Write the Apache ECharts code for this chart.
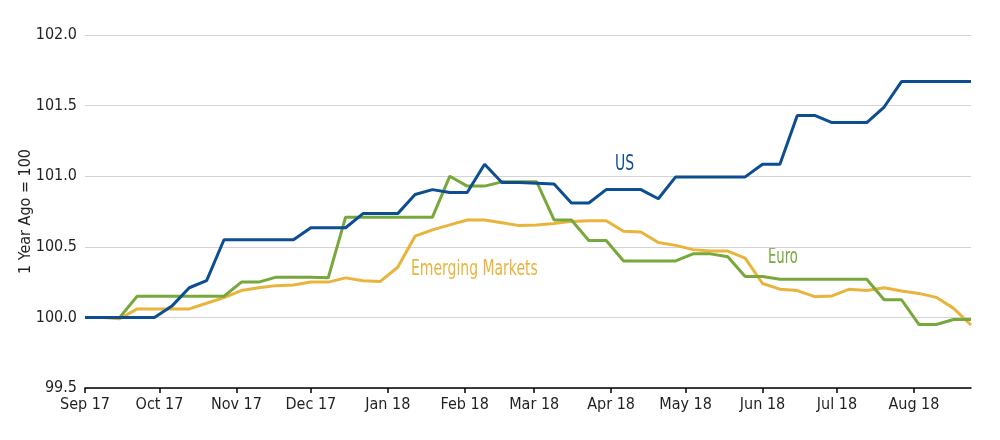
<!DOCTYPE html>
<html>
<head>
<meta charset="utf-8">
<script src="https://cdn.jsdelivr.net/npm/echarts@6/dist/echarts.min.js"></script>
<style>
    html, body { margin: 0; padding: 0; background: #fff; }
    #chart { width: 1000px; height: 440px; }
</style>
</head>
<body>
<div id="chart"></div>
<script>
// weekly observations, Fridays
var weeks = [
    '2017-09-01', '2017-09-08', '2017-09-15', '2017-09-22', '2017-09-29',
    '2017-10-06', '2017-10-13', '2017-10-20', '2017-10-27',
    '2017-11-03', '2017-11-10', '2017-11-17', '2017-11-24',
    '2017-12-01', '2017-12-08', '2017-12-15', '2017-12-22', '2017-12-29',
    '2018-01-05', '2018-01-12', '2018-01-19', '2018-01-26',
    '2018-02-02', '2018-02-09', '2018-02-16', '2018-02-23',
    '2018-03-02', '2018-03-09', '2018-03-16', '2018-03-23', '2018-03-30',
    '2018-04-06', '2018-04-13', '2018-04-20', '2018-04-27',
    '2018-05-04', '2018-05-11', '2018-05-18', '2018-05-25',
    '2018-06-01', '2018-06-08', '2018-06-15', '2018-06-22', '2018-06-29',
    '2018-07-06', '2018-07-13', '2018-07-20', '2018-07-27',
    '2018-08-03', '2018-08-10', '2018-08-17', '2018-08-24'
];

var usValues = [
    100.0, 100.0, 100.0, 100.0, 100.0,
    100.08, 100.21, 100.26, 100.55,
    100.55, 100.55, 100.55, 100.55,
    100.635, 100.635, 100.635, 100.735, 100.735,
    100.735, 100.87, 100.905, 100.885,
    100.885, 101.085, 100.955, 100.955,
    100.95, 100.945, 100.81, 100.81, 100.905,
    100.905, 100.905, 100.84, 100.995,
    100.995, 100.995, 100.995, 100.995,
    101.085, 101.085, 101.43, 101.43, 101.38,
    101.38, 101.38, 101.49, 101.67,
    101.67, 101.67, 101.67, 101.67
];

var euroValues = [
    100.0, 100.0, 100.0, 100.15, 100.15,
    100.15, 100.15, 100.15, 100.15,
    100.25, 100.25, 100.285, 100.285,
    100.285, 100.28, 100.71, 100.71, 100.71,
    100.71, 100.71, 100.71, 101.0,
    100.93, 100.93, 100.96, 100.96,
    100.96, 100.69, 100.69, 100.545, 100.545,
    100.40, 100.40, 100.40, 100.40,
    100.45, 100.45, 100.43, 100.29,
    100.29, 100.27, 100.27, 100.27, 100.27,
    100.27, 100.27, 100.125, 100.125,
    99.95, 99.95, 99.985, 99.985
];

var emValues = [
    100.0, 100.0, 99.99, 100.06, 100.06,
    100.06, 100.06, 100.10, 100.14,
    100.19, 100.21, 100.225, 100.23,
    100.25, 100.25, 100.28, 100.26, 100.255,
    100.355, 100.575, 100.62, 100.655,
    100.69, 100.69, 100.67, 100.65,
    100.655, 100.665, 100.68, 100.685, 100.685,
    100.61, 100.605, 100.53, 100.51,
    100.48, 100.47, 100.47, 100.42,
    100.24, 100.20, 100.19, 100.147, 100.152,
    100.20, 100.19, 100.21, 100.187,
    100.17, 100.142, 100.064, 99.946
];

var yTicks = [99.5, 100.0, 100.5, 101.0, 101.5, 102.0];
var monthNames = ['Jan', 'Feb', 'Mar', 'Apr', 'May', 'Jun', 'Jul', 'Aug', 'Sep', 'Oct', 'Nov', 'Dec'];

var font = "'DejaVu Sans Condensed', 'DejaVu Sans', sans-serif";
var textColor = '#231f20';

function pairs(values) {
    return weeks.map(function (d, i) { return [d, values[i]]; });
}

var myChart = echarts.init(document.getElementById('chart'));

var option = {
    animation: false,
    grid: {
        left: 85,
        right: 29,
        top: 35,
        bottom: 52,
        outerBoundsMode: 'none'
    },
    xAxis: {
        type: 'time',
        min: weeks[0],
        max: weeks[weeks.length - 1],
        splitNumber: 12,
        minInterval: 28 * 86400000,
        maxInterval: 31 * 86400000,
        axisLine: { lineStyle: { color: '#000', width: 1.5 } },
        axisTick: { show: true, length: 5, lineStyle: { color: '#000', width: 1.5 } },
        splitLine: { show: false },
        axisLabel: {
            showMaxLabel: false,
            color: textColor,
            fontFamily: font,
            fontSize: 16,
            margin: 9,
            formatter: function (value) {
                var d = new Date(value);
                return monthNames[d.getMonth()] + ' ' + String(d.getFullYear()).slice(2);
            }
        }
    },
    yAxis: {
        type: 'value',
        min: yTicks[0],
        max: yTicks[yTicks.length - 1],
        interval: 0.5,
        name: '1 Year Ago = 100',
        nameLocation: 'middle',
        nameGap: 51,
        nameMoveOverlap: false,
        nameTextStyle: { color: textColor, fontFamily: font, fontSize: 16 },
        axisLine: { show: false },
        axisTick: { show: false },
        splitLine: { lineStyle: { color: '#d4d4d4', width: 1.2 } },
        axisLabel: {
            color: textColor,
            fontFamily: font,
            fontSize: 16,
            margin: 8,
            formatter: function (v) { return v.toFixed(1); }
        }
    },
    series: [
        {
            name: 'Emerging Markets',
            type: 'line',
            showSymbol: false,
            data: pairs(emValues),
            lineStyle: { color: '#e9b43c', width: 3 }
        },
        {
            name: 'Euro',
            type: 'line',
            showSymbol: false,
            data: pairs(euroValues),
            lineStyle: { color: '#77a83b', width: 3 }
        },
        {
            name: 'US',
            type: 'line',
            showSymbol: false,
            data: pairs(usValues),
            lineStyle: { color: '#0d4e93', width: 3 }
        }
    ],
    // series labels, squeezed horizontally to mimic the condensed face
    graphic: [
        { type: 'text', left: 615, top: 154, scaleX: 0.74, style: { text: 'US', fill: '#0d4e93', font: '21px ' + font } },
        { type: 'text', left: 411, top: 259, scaleX: 0.74, style: { text: 'Emerging Markets', fill: '#e9b43c', font: '21px ' + font } },
        { type: 'text', left: 768, top: 247, scaleX: 0.7, style: { text: 'Euro', fill: '#77a83b', font: '21px ' + font } }
    ]
};

myChart.setOption(option);
</script>
</body>
</html>
